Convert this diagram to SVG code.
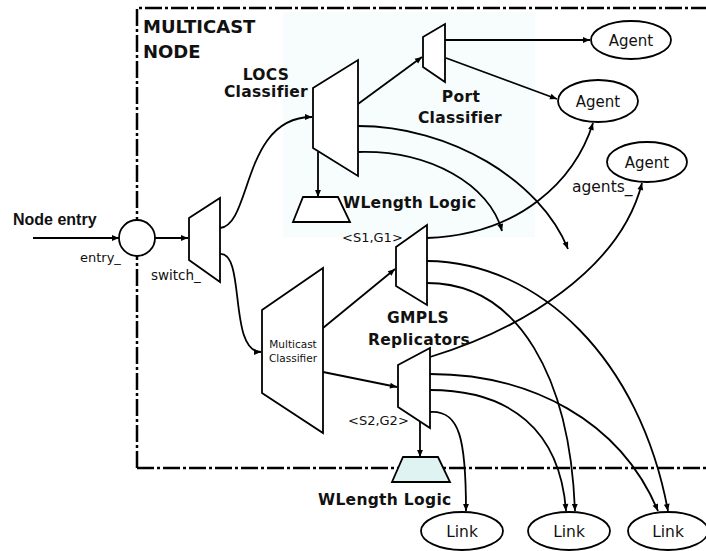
<svg xmlns="http://www.w3.org/2000/svg" width="706" height="551" viewBox="0 0 706 551">
<defs>
<style>
.sh{fill:#fff;stroke:#000;stroke-width:1.8;stroke-linejoin:miter}
.wl2{fill:#dff3f3;stroke:#000;stroke-width:1.8}
.c{fill:none;stroke:#000;stroke-width:1.8;marker-end:url(#arr)}
.box{fill:none;stroke:#000;stroke-width:2.5;stroke-dasharray:17 3 3 3}
.bl{font-family:"DejaVu Sans",sans-serif;font-weight:bold;font-size:15.5px;letter-spacing:0.3px;fill:#111}
.rg{font-family:"DejaVu Sans",sans-serif;fill:#111}
.ne{font-family:"Liberation Sans",Arial,sans-serif;font-weight:bold;font-size:16px;fill:#111}
.ti{font-family:"DejaVu Sans",sans-serif;font-weight:bold;font-size:18px;fill:#111}
</style>
<marker id="arr" viewBox="0 0 10 10" refX="10" refY="5" markerWidth="9" markerHeight="7" markerUnits="userSpaceOnUse" orient="auto">
<path d="M0,0.8 L10,5 L0,9.2 z" fill="#000"/>
</marker>
</defs>
<rect width="706" height="551" fill="#fff"/>
<rect x="283" y="12" width="252" height="225" fill="#f7fcfc"/>
<g id="multicast-node">
<path class="box" d="M137,468 L137,8 L706,8 M137,468 L706,468"/>
<text class="ti" x="143" y="33">MULTICAST</text>
<text class="ti" x="143" y="58">NODE</text>
</g>
<g id="connectors">
<path class="c" d="M33,238 L119,238"/>
<path class="c" d="M155,238 L188,238"/>
<path class="c" d="M220,228 C252,225 242,117 312,117"/>
<path class="c" d="M220,254 C246,252 228,352 261,352"/>
<path class="c" d="M318,152 L318,197"/>
<path class="c" d="M358,104 L422,57"/>
<path class="c" d="M445,40 L590,40"/>
<path class="c" d="M446,58 L557,99"/>
<path class="c" d="M358,126 C450,126 540,180 568,249"/>
<path class="c" d="M358,152 C430,150 490,185 502,231"/>
<path class="c" d="M323,328 L395,269"/>
<path class="c" d="M323,372 L397,387"/>
<path class="c" d="M427,238 C520,235 575,180 593,123"/>
<path class="c" d="M427,261 C540,262 640,360 668,511"/>
<path class="c" d="M427,283 C520,283 570,380 575,511"/>
<path class="c" d="M430,357 C520,330 620,270 642,183"/>
<path class="c" d="M430,374 C530,374 620,420 658,511"/>
<path class="c" d="M430,390 C510,390 560,430 566,511"/>
<path class="c" d="M430,412 C460,410 466,440 466,511"/>
<path class="c" d="M420,422 L420,457"/>
</g>
<g id="node-entry">
<text class="ne" x="13" y="225">Node entry</text>
</g>
<g id="entry">
<circle class="sh" cx="137" cy="238" r="18"/>
<text class="rg" x="80" y="262" font-size="13">entry_</text>
</g>
<g id="switch">
<polygon class="sh" points="189,218 220,198 220,282 189,260"/>
<text class="rg" x="151" y="280" font-size="13.5">switch_</text>
</g>
<g id="locs-classifier">
<polygon class="sh" points="313,88 358,60 358,176 313,148"/>
<text class="bl" x="266" y="80" text-anchor="middle">LOCS</text>
<text class="bl" x="266" y="97" text-anchor="middle">Classifier</text>
</g>
<g id="wlength-logic-1">
<polygon class="sh" points="303,197 338,197 350,222 293,222"/>
<text class="bl" x="343" y="208" letter-spacing="0">WLength Logic</text>
</g>
<g id="port-classifier">
<polygon class="sh" points="423,37 445,24 445,82 423,67"/>
<text class="bl" x="461" y="102" text-anchor="middle">Port</text>
<text class="bl" x="460" y="123" text-anchor="middle">Classifier</text>
</g>
<g id="agent-1">
<ellipse class="sh" cx="631" cy="40" rx="40" ry="19"/>
<text class="rg" x="631" y="45.5" font-size="15" text-anchor="middle">Agent</text>
</g>
<g id="agent-2">
<ellipse class="sh" cx="598" cy="101" rx="40" ry="21"/>
<text class="rg" x="598" y="106.5" font-size="15" text-anchor="middle">Agent</text>
</g>
<g id="agent-3">
<ellipse class="sh" cx="647" cy="162" rx="40" ry="20"/>
<text class="rg" x="647" y="167.5" font-size="15" text-anchor="middle">Agent</text>
<text class="rg" x="572" y="192" font-size="15.5">agents_</text>
</g>
<g id="multicast-classifier">
<polygon class="sh" points="262,310 323,268 323,433 262,393"/>
<text class="rg" x="293" y="348" font-size="10.5" text-anchor="middle">Multicast</text>
<text class="rg" x="293" y="362" font-size="10.5" text-anchor="middle">Classifier</text>
</g>
<g id="replicator-s1g1">
<polygon class="sh" points="396,247 427,225 427,305 396,286"/>
<text class="rg" x="342" y="242" font-size="13">&lt;S1,G1&gt;</text>
</g>
<g id="gmpls-label">
<text class="bl" x="418" y="323" text-anchor="middle">GMPLS</text>
<text class="bl" x="419" y="345" text-anchor="middle">Replicators</text>
</g>
<g id="replicator-s2g2">
<polygon class="sh" points="398,365 430,348 430,428 398,407"/>
<text class="rg" x="348" y="425" font-size="13">&lt;S2,G2&gt;</text>
</g>
<g id="wlength-logic-2">
<polygon class="wl2" points="403,457 438,457 450,482 392,482"/>
<text class="bl" x="318" y="505" letter-spacing="0">WLength Logic</text>
</g>
<g id="link-1">
<ellipse class="sh" cx="462" cy="531" rx="41" ry="19"/>
<text class="rg" x="462" y="536.5" font-size="15.5" text-anchor="middle">Link</text>
</g>
<g id="link-2">
<ellipse class="sh" cx="569" cy="531" rx="41" ry="19"/>
<text class="rg" x="569" y="536.5" font-size="15.5" text-anchor="middle">Link</text>
</g>
<g id="link-3">
<ellipse class="sh" cx="668" cy="531" rx="40" ry="19"/>
<text class="rg" x="668" y="536.5" font-size="15.5" text-anchor="middle">Link</text>
</g>
</svg>
